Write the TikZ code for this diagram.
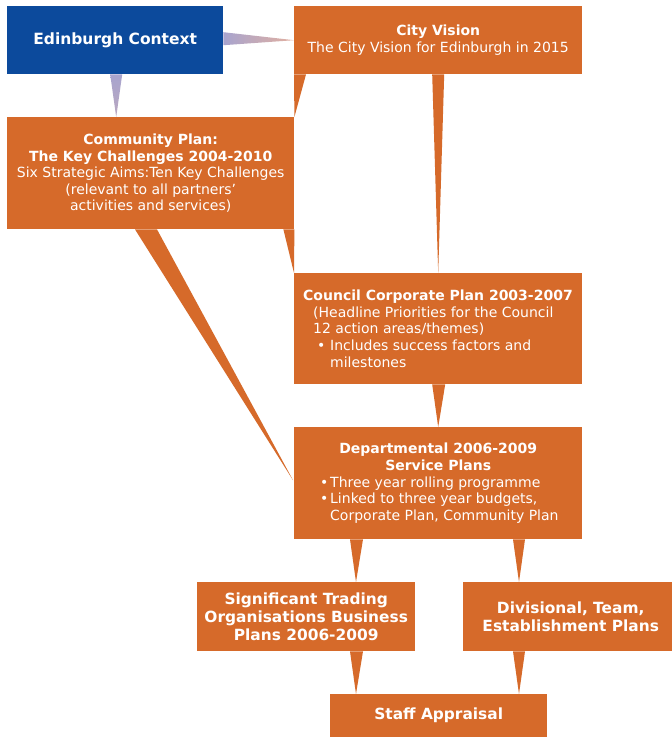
\documentclass[tikz,border=0pt]{standalone}
\usepackage{fontspec}
\setmainfont{DejaVu Sans}
\usetikzlibrary{calc}
\definecolor{orng}{RGB}{214,106,42}
\definecolor{edblue}{RGB}{12,74,156}
\definecolor{lav}{RGB}{168,164,206}
\definecolor{peach}{RGB}{226,176,160}
\begin{document}
\begin{tikzpicture}[x=1pt,y=-1pt,
  box/.style={fill=orng, text=white, anchor=north west, inner sep=0pt, align=center,
    font=\fontsize{14}{16.6}\selectfont},
  bigbox/.style={box, font=\fontsize{15.4}{18.2}\selectfont\bfseries},
  leftbox/.style={box, align=left, inner xsep=9pt},
  wedge/.style={fill=orng}]
\clip (0,0) rectangle (672,737);
\fill[white] (0,0) rectangle (672,737);

% boxes
\node[box, fill=edblue, minimum width=216pt, minimum height=68pt,
  font=\fontsize{15.5}{18}\selectfont\bfseries] (ed) at (7,6) {Edinburgh Context};
\node[box, minimum width=288pt, minimum height=68pt] (cv) at (294,6)
  {\textbf{City Vision}\\The City Vision for Edinburgh in 2015};
\node[box, minimum width=287pt, minimum height=112pt] (cm) at (7,117)
  {\textbf{Community Plan:}\\\textbf{The Key Challenges 2004-2010}\\Six Strategic Aims:Ten Key Challenges\\(relevant to all partners’\\activities and services)};
\node[leftbox, minimum width=288pt, minimum height=111pt] (cc) at (294,273)
  {\makebox[270pt][l]{\bfseries Council Corporate Plan 2003-2007}\\
   \hspace*{10pt}(Headline Priorities for the Council\\
   \hspace*{10pt}12 action areas/themes)\\
   \hspace*{14pt}\makebox[13pt][l]{•}Includes success factors and\\
   \hspace*{27pt}milestones};
\node[leftbox, minimum width=288pt, minimum height=112pt] (dp) at (294,427)
  {\makebox[270pt]{\bfseries Departmental 2006-2009}\\
   \makebox[270pt]{\bfseries Service Plans}\\
   \hspace*{17pt}\makebox[10pt][l]{•}Three year rolling programme\\
   \hspace*{17pt}\makebox[10pt][l]{•}Linked to three year budgets,\\
   \hspace*{27pt}Corporate Plan, Community Plan};
\node[bigbox, minimum width=218pt, minimum height=69pt] (st) at (197,582)
  {Significant Trading\\Organisations Business\\Plans 2006-2009};
\node[bigbox, minimum width=215pt, minimum height=69pt] (dv) at (463,582)
  {Divisional, Team,\\Establishment Plans};
\node[bigbox, minimum width=217pt, minimum height=43pt] (sa) at (330,694)
  {Staff Appraisal};

% connectors (wedges)
\shade[left color=lav, right color=peach]
  ($(ed.east)+(0,-8)$) -- ($(ed.east)+(0,5)$) -- (cv.west) -- cycle;
\coordinate (t1) at ($(ed.south)+(1,0)$);
\shade[top color=lav, bottom color=lav!70!peach]
  ($(t1)+(-6,0)$) -- ($(t1)+(6,0)$) -- (t1 |- cm.north) -- cycle;

\fill[wedge] (cv.south west) -- ($(cv.south west)+(12,0)$) -- (cm.north east) -- cycle;
\fill[wedge] ($(cv.south)+(-6,0)$) -- ($(cv.south)+(6,0)$) -- (cc.north) -- cycle;
\fill[wedge] ($(cm.south east)+(-11,0)$) -- (cm.south east) -- (cc.north west) -- cycle;
\fill[wedge] ($(cm.south west)+(128,0)$) -- ($(cm.south west)+(150,0)$) -- ($(dp.west)+(-1,-3)$) -- cycle;
\fill[wedge] ($(cc.south)+(-6,0)$) -- ($(cc.south)+(7,0)$) -- (dp.north) -- cycle;

\coordinate (xa) at ($(dp.south west)+(62,0)$);
\coordinate (xb) at ($(dp.south west)+(225,0)$);
\coordinate (ya) at (xa |- st.south);
\coordinate (yb) at (xb |- dv.south);
\fill[wedge] ($(xa)+(-6,0)$) -- ($(xa)+(7,0)$) -- (xa |- st.north) -- cycle;
\fill[wedge] ($(xb)+(-6,0)$) -- ($(xb)+(6,0)$) -- (xb |- dv.north) -- cycle;
\fill[wedge] ($(ya)+(-6,0)$) -- ($(ya)+(7,0)$) -- (ya |- sa.north) -- cycle;
\fill[wedge] ($(yb)+(-6,0)$) -- ($(yb)+(6,0)$) -- (yb |- sa.north) -- cycle;
\end{tikzpicture}
\end{document}
